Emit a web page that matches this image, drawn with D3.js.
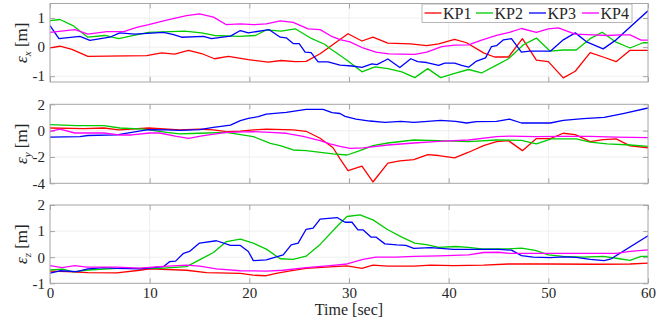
<!DOCTYPE html>
<html><head><meta charset="utf-8">
<script src="https://cdn.jsdelivr.net/npm/d3@7"></script>
</head><body style="margin:0;background:#fff">
<svg id="chart" width="665" height="327" font-family="Liberation Serif"></svg>
<script>
// ---- data: [time (sec), error (m)] ----
const seriesNames = ["KP1","KP2","KP3","KP4"];
const seriesColors = ["#ff0000","#00cc00","#0000ff","#ff00ff"];
const timeTicks = [0,10,20,30,40,50,60];

const kp1X = [[0,-0.03],[1,0.03],[2.2,-0.08],[3.8,-0.32],[9.7,-0.29],[11.2,-0.2],[12.5,-0.24],[13.9,-0.11],[15.2,-0.22],[16.5,-0.4],[17.9,-0.32],[19.9,-0.43],[21.9,-0.52],[23.2,-0.46],[24.6,-0.5],[25.7,-0.49],[27.1,-0.23],[29.9,0.46],[31.3,0.21],[32.4,0.34],[33.9,0.14],[36.2,0.11],[37.8,0.05],[39.0,0.11],[40.6,0.27],[41.8,0.15],[43.5,-0.2],[44.6,-0.34],[46,-0.34],[47.4,0.29],[48.8,-0.45],[50,-0.5],[51.5,-1.06],[52.7,-0.83],[54.2,-0.19],[55.5,-0.34],[56.8,-0.5],[58.2,-0.11],[60,-0.11]];
const kp2X = [[0,0.91],[1,0.95],[2.3,0.74],[3.8,0.34],[5.5,0.4],[6.9,0.29],[8.4,0.4],[9.9,0.51],[13.5,0.55],[15.2,0.49],[16.5,0.4],[19,0.37],[20.6,0.4],[21.7,0.59],[23.2,0.55],[24.6,0.63],[26.1,0.32],[27.6,0.09],[28.1,-0.05],[29.8,-0.45],[31.3,-0.85],[32.6,-0.68],[33.9,-0.74],[35.3,-0.85],[36.6,-1.05],[37.9,-0.74],[39.2,-1.05],[40.6,-0.9],[42,-0.77],[43.3,-0.89],[44.8,-0.62],[46,-0.4],[47.5,0.08],[48.8,0.31],[50.2,-0.14],[51.5,-0.1],[52.8,-0.1],[54.2,0.29],[55.4,0.51],[56.8,0.17],[58.2,-0.03],[59.5,0.15],[60,0.15]];
const kp3X = [[0,0.74],[0.9,0.29],[3,0.37],[4,0.23],[6,0.34],[7,0.49],[8.5,0.45],[11.4,0.51],[12.4,0.43],[13.2,0.34],[15.4,0.37],[16.2,0.29],[18.1,0.38],[19.1,0.57],[19.9,0.49],[22,0.6],[23.1,0.34],[23.7,0.32],[24.4,0.12],[25,0.12],[25.6,-0.17],[26.2,-0.19],[26.9,-0.51],[27.9,-0.51],[29.1,-0.62],[30.3,-0.65],[31.3,-0.7],[32.3,-0.58],[32.8,-0.6],[33.9,-0.41],[35.1,-0.7],[36.2,-0.4],[36.9,-0.5],[37.8,-0.53],[39.0,-0.63],[39.6,-0.55],[40.6,-0.55],[41.3,-0.63],[42,-0.69],[42.8,-0.48],[43.7,-0.37],[44.3,0.02],[44.8,0.05],[45.5,0.25],[46.3,0.29],[47.3,-0.17],[48.1,-0.14],[50.2,-0.14],[51.5,0.25],[52.7,0.49],[53.9,0.17],[55.5,-0.06],[56.8,0.25],[60,1.25]];
const kp4X = [[0,0.51],[2.5,0.6],[3.8,0.45],[5.7,0.53],[7.4,0.53],[8.7,0.68],[9.9,0.77],[11.7,0.93],[13.7,1.08],[15,1.14],[16.4,1.03],[17.7,0.77],[19.1,0.8],[20.4,0.77],[21.7,0.8],[23.1,0.9],[24.4,0.85],[25.9,0.63],[27.1,0.6],[28.2,0.38],[29.1,0.26],[30.1,0.18],[31.4,-0.03],[32.7,-0.17],[34,-0.23],[36.6,-0.25],[37.8,-0.17],[39.3,0.02],[40.6,0.07],[42,0.08],[43.3,0.24],[44.8,0.4],[46.1,0.51],[47.3,0.64],[48.8,0.51],[50,0.63],[51,0.66],[52.7,0.45],[54.5,0.42],[55.9,0.4],[57.2,0.42],[58.2,0.42],[59.3,0.24],[60,0.24]];

const kp1Y = [[0,0.2],[3.4,0.15],[5.4,0.2],[6.9,0.05],[9.9,0.2],[13,0.05],[15,0.12],[16.4,0.05],[17.7,-0.08],[19.1,-0.03],[20.4,0.05],[21.7,0.12],[24.4,0.05],[25.7,-0.05],[27.1,-0.58],[28.4,-1.3],[29.1,-2.14],[29.9,-3.03],[31.3,-2.7],[32.4,-3.9],[33.9,-2.47],[35.1,-2.3],[36.5,-2.2],[37.9,-1.82],[39,-1.89],[40.6,-2.07],[42,-1.64],[43.5,-1.14],[44.8,-0.83],[46,-0.76],[47.4,-1.52],[48.8,-0.6],[50.2,-0.6],[51.5,-0.2],[52.7,-0.3],[54.2,-0.83],[55.5,-0.68],[56.8,-0.63],[58.2,-1.16],[60,-1.3]];
const kp2Y = [[0,0.45],[2.7,0.38],[5.4,0.38],[7,0.2],[9.4,0.12],[11.7,-0.13],[13,-0.25],[15,-0.2],[17.7,-0.13],[20.4,-0.45],[22.1,-0.96],[23.1,-1.14],[24.4,-1.47],[25.7,-1.52],[28.4,-1.77],[29.8,-1.85],[31.1,-1.52],[32.4,-1.14],[33.9,-0.94],[36.5,-0.71],[39,-0.76],[42,-0.83],[44.8,-0.71],[47.3,-0.74],[48.8,-1.01],[50.3,-0.63],[52.8,-0.63],[54.2,-0.88],[55.9,-1.01],[58.2,-1.09],[60,-1.19]];
const kp3Y = [[0,-0.5],[3,-0.45],[3.8,-0.37],[6.7,-0.32],[8.8,-0.05],[9.9,0.08],[11.7,0.06],[13,0.02],[15,0.08],[16.4,0.25],[18.1,0.42],[19.1,0.76],[19.9,0.93],[20.9,1.06],[21.7,1.26],[23.7,1.38],[25.7,1.61],[27.4,1.61],[28.3,1.36],[29.1,1.3],[29.6,1.08],[30.7,0.88],[32.1,0.73],[33.6,0.63],[35.2,0.7],[36.5,0.63],[37.9,0.7],[39.2,0.78],[40.7,0.7],[41.8,0.58],[42.8,0.68],[44.8,0.7],[46.1,0.88],[47.3,0.58],[50.2,0.58],[51.5,0.78],[53.5,0.91],[55.6,1.0],[57.5,1.3],[60,1.72]];
const kp4Y = [[0,-0.05],[1,0.12],[2.5,-0.18],[5.4,-0.18],[6.9,-0.33],[8.2,-0.33],[10,-0.18],[11,-0.18],[12.7,-0.43],[13.9,-0.58],[15.4,-0.38],[17.7,-0.13],[20.4,-0.08],[22.1,-0.13],[23.7,-0.2],[25.4,-0.43],[27.1,-0.76],[28.1,-1.0],[29.1,-1.19],[30.1,-1.34],[31.4,-1.31],[33.9,-1.09],[36.5,-0.94],[39,-0.81],[42,-0.71],[44.8,-0.46],[46.1,-0.41],[48.8,-0.46],[51.5,-0.44],[54.2,-0.44],[56.8,-0.5],[60,-0.53]];

const kp1Z = [[0,-0.53],[1.7,-0.55],[3.8,-0.59],[6.7,-0.6],[9,-0.5],[10,-0.45],[13.7,-0.5],[15.7,-0.59],[19.1,-0.62],[20.4,-0.69],[21.7,-0.71],[22.7,-0.62],[24.1,-0.52],[25.7,-0.43],[28.1,-0.37],[29.8,-0.33],[31.3,-0.43],[32.4,-0.3],[33.9,-0.34],[36.5,-0.34],[38.2,-0.3],[40.5,-0.32],[43.5,-0.3],[46,-0.26],[50,-0.26],[54.8,-0.27],[58.2,-0.26],[60,-0.23]];
const kp2Z = [[0,-0.49],[1.3,-0.46],[2.3,-0.56],[3.8,-0.49],[6.7,-0.43],[9,-0.43],[11,-0.43],[13.7,-0.36],[15,-0.1],[16.4,0.18],[17.7,0.6],[19.1,0.69],[20.4,0.54],[21.7,0.31],[23.1,-0.06],[24.4,-0.08],[25.7,0.04],[27.1,0.49],[29.1,1.3],[29.8,1.56],[31.1,1.62],[32.4,1.43],[33.9,1.05],[35.3,0.77],[36.6,0.54],[37.9,0.47],[39,0.38],[40.7,0.41],[42,0.38],[43.3,0.32],[46,0.32],[47.3,0.35],[48.7,0.26],[50,0.09],[51.5,0.03],[53.5,0.0],[55.5,0.03],[56.8,-0.04],[58.2,-0.12],[59.3,0.03],[60,0.03]];
const kp3Z = [[0,-0.61],[1,-0.52],[2.7,-0.55],[3.8,-0.45],[5.4,-0.4],[6.7,-0.43],[9,-0.45],[11.4,-0.36],[12,-0.17],[12.6,-0.15],[13.4,0.15],[14,0.22],[15,0.54],[16.7,0.63],[18.1,0.45],[19.1,0.45],[19.9,0.22],[20.4,-0.13],[21.7,-0.1],[23.4,0.09],[24.2,0.47],[24.9,0.54],[25.7,1.07],[26.4,1.11],[27.1,1.46],[28.8,1.52],[29.6,1.34],[30.3,1.34],[30.9,1.05],[31.4,1.05],[32.2,0.77],[32.7,0.77],[33.6,0.51],[34.8,0.47],[35.7,0.45],[36.5,0.34],[38.2,0.37],[40.5,0.3],[42.8,0.3],[45,0.3],[46.3,0.27],[47.3,0.06],[48.5,0.0],[50.2,-0.02],[51.5,0.01],[52.8,-0.01],[54.2,-0.08],[55.6,-0.13],[56.3,-0.06],[60,0.82]];
const kp4Z = [[0,-0.32],[1.2,-0.4],[2.5,-0.32],[3.7,-0.38],[6.7,-0.38],[9,-0.42],[11,-0.36],[13.7,-0.3],[15,-0.34],[16.7,-0.45],[19.1,-0.52],[21.7,-0.53],[23.4,-0.5],[25.7,-0.4],[28.1,-0.32],[29.8,-0.26],[31.4,-0.08],[32.7,0],[34.7,0],[36.5,0.03],[39,0.05],[42,0.09],[43.5,0.18],[45,0.19],[46.1,0.15],[50,0.15],[55.5,0.15],[56.8,0.15],[58.2,0.22],[60,0.28]];

const yTicksX = [-1,0,1];
const yTicksY = [-4,-2,0,2];
const yTicksZ = [-1,0,1,2];

// ---- layout ----
const FONT = "Liberation Serif";
const TXT = "#262626";
const svg = d3.select("#chart");
const left = 50, right = 648;
const panels = [
  {sub:"x", top:3.5, bottom:82, domain:[-1.2,1.5], ticks:yTicksX, data:[kp1X,kp2X,kp3X,kp4X]},
  {sub:"y", top:104.3, bottom:183.3, domain:[-4,2], ticks:yTicksY, data:[kp1Y,kp2Y,kp3Y,kp4Y]},
  {sub:"z", top:205, bottom:283.3, domain:[-1,2], ticks:yTicksZ, data:[kp1Z,kp2Z,kp3Z,kp4Z]}
];
const x = d3.scaleLinear().domain([0,60]).range([left,right]);
const frameColor = "#a6a6a6", gridColor = "#ebebeb", tickLen = 5;

function styleText(sel, size){
  sel.attr("font-family",FONT).attr("font-size",size).attr("fill",TXT);
}
function cleanAxis(a){
  a.attr("font-family",null).attr("font-size",null);
  a.select(".domain").remove();
  a.selectAll(".tick line").attr("stroke",frameColor);
}

panels.forEach((p,i) => {
  const y = d3.scaleLinear().domain(p.domain).range([p.bottom,p.top]);
  const g = svg.append("g");
  const cid = "clip"+i;
  svg.append("clipPath").attr("id",cid).append("rect")
    .attr("x",left).attr("y",p.top).attr("width",right-left).attr("height",p.bottom-p.top);

  // grid
  g.append("g").selectAll("line").data(timeTicks.slice(1,-1)).join("line")
    .attr("x1",d=>x(d)).attr("x2",d=>x(d)).attr("y1",p.top).attr("y2",p.bottom)
    .attr("stroke",gridColor).attr("stroke-width",0.8);
  g.append("g").selectAll("line").data(p.ticks.filter(t=>y(t)>p.top+0.5 && y(t)<p.bottom-0.5)).join("line")
    .attr("y1",d=>y(d)).attr("y2",d=>y(d)).attr("x1",left).attr("x2",right)
    .attr("stroke",gridColor).attr("stroke-width",0.8);

  // left axis (ticks inward)
  const ay = g.append("g").attr("transform",`translate(${left},0)`)
    .call(d3.axisLeft(y).tickValues(p.ticks).tickSize(-tickLen).tickPadding(5).tickFormat(d=>String(d)));
  cleanAxis(ay);
  styleText(ay.selectAll("text"), 15);
  const ayr = g.append("g").attr("transform",`translate(${right},0)`)
    .call(d3.axisRight(y).tickValues(p.ticks).tickSize(-tickLen).tickFormat(""));
  cleanAxis(ayr);

  // x ticks top/bottom
  const axb = g.append("g").attr("transform",`translate(0,${p.bottom})`)
    .call(d3.axisBottom(x).tickValues(timeTicks).tickSize(-tickLen).tickPadding(4).tickFormat(i===2?(d=>String(d)):""));
  cleanAxis(axb);
  styleText(axb.selectAll("text"), 15);
  const axt = g.append("g").attr("transform",`translate(0,${p.top})`)
    .call(d3.axisTop(x).tickValues(timeTicks).tickSize(-tickLen).tickFormat(""));
  cleanAxis(axt);

  // lines
  const line = d3.line().x(d=>x(d[0])).y(d=>y(d[1]));
  const lg = g.append("g").attr("clip-path",`url(#${cid})`);
  p.data.forEach((s,k) => {
    lg.append("path").datum(s).attr("d",line).attr("fill","none")
      .attr("stroke",seriesColors[k]).attr("stroke-width",1.3).attr("stroke-linejoin","round");
  });

  // frame
  g.append("rect").attr("x",left).attr("y",p.top).attr("width",right-left).attr("height",p.bottom-p.top)
    .attr("fill","none").attr("stroke",frameColor).attr("stroke-width",1);

  // y label
  const cy = (p.top+p.bottom)/2;
  const yl = g.append("text").attr("transform",`translate(27,${cy}) rotate(-90)`)
    .attr("text-anchor","middle");
  styleText(yl, 17);
  yl.append("tspan").attr("font-style","italic").text("ε");
  yl.append("tspan").attr("font-style","italic").attr("font-size",11).attr("dy",4).text(p.sub);
  yl.append("tspan").attr("dy",-4).text(" [m]");
});

// x label
styleText(svg.append("text").attr("x",(left+right)/2).attr("y",315).attr("text-anchor","middle")
  .text("Time [sec]"), 16);

// legend
const leg = svg.append("g");
leg.append("rect").attr("x",422).attr("y",4).attr("width",210).attr("height",18.5)
  .attr("fill","#fff").attr("stroke","#a6a6a6").attr("stroke-width",0.8);
const legX = [424.5,476,529,582];
seriesNames.forEach((n,k) => {
  leg.append("line").attr("x1",legX[k]).attr("x2",legX[k]+17).attr("y1",13).attr("y2",13)
    .attr("stroke",seriesColors[k]).attr("stroke-width",1.3);
  styleText(leg.append("text").attr("x",legX[k]+18.5).attr("y",18.5).text(n), 16);
});
</script>
</body></html>
